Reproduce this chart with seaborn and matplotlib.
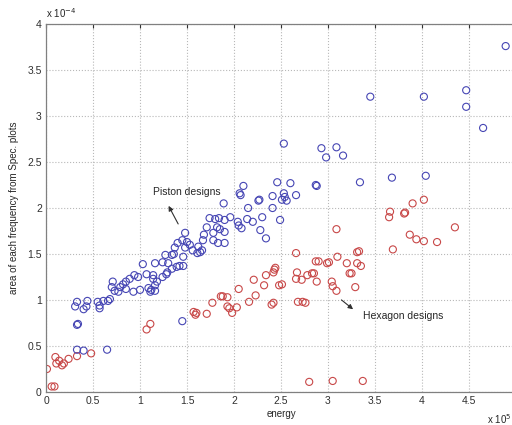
import matplotlib
matplotlib.use("Agg")
import matplotlib.pyplot as plt
import seaborn as sns
import pandas as pd

# Piston designs (blue): energy (x 10^5), area (x 10^-4)
piston_x = [4.89, 3.45, 4.02, 4.47, 4.47, 4.65,
            2.53, 2.93, 2.98, 3.09, 3.16, 3.34, 3.68, 4.04,
            2.46, 2.60, 2.87, 2.88,
            2.41, 2.53, 2.54, 2.51, 2.56, 2.66, 2.27, 2.41, 2.49,
            2.10, 2.07, 2.06, 2.26, 2.15, 1.89, 2.30, 2.28, 2.34, 2.20, 2.14, 2.04, 2.05, 2.08,
            1.96, 1.90, 1.84, 1.80, 1.74, 1.82, 1.85, 1.90, 1.78, 1.71, 1.68, 1.67, 1.78, 1.83,
            1.90, 1.62, 1.64, 1.61, 1.66, 1.48, 1.45, 1.50, 1.40, 1.53, 1.56, 1.48, 1.37, 1.34,
            1.46, 1.27, 1.24, 1.30, 1.16, 1.39, 1.42, 1.46, 1.29, 1.34, 1.24, 1.14, 1.18,
            0.31, 0.33, 0.43, 0.44, 0.40, 0.33, 0.34, 0.33, 0.40, 0.65, 0.55, 0.57, 0.61, 0.57,
            0.66, 0.68, 0.70, 0.71, 0.73, 0.79, 0.77, 0.82, 0.85, 0.85, 0.89, 0.93, 0.94, 0.98,
            1.00, 1.03, 1.09, 1.12, 1.16, 1.07, 1.14, 1.16, 1.11, 1.45, 1.28, 1.36]
piston_y = [3.76, 3.21, 3.21, 3.28, 3.10, 2.87,
            2.70, 2.65, 2.55, 2.66, 2.57, 2.28, 2.33, 2.35,
            2.28, 2.27, 2.25, 2.24,
            2.13, 2.16, 2.12, 2.09, 2.08, 2.14, 2.09, 2.00, 1.87,
            2.24, 2.14, 2.16, 2.08, 2.00, 2.05, 1.90, 1.76, 1.67, 1.85, 1.88, 1.85, 1.81, 1.78,
            1.90, 1.87, 1.89, 1.88, 1.89, 1.79, 1.77, 1.74, 1.73, 1.79, 1.71, 1.65, 1.65, 1.62,
            1.62, 1.58, 1.52, 1.51, 1.54, 1.73, 1.65, 1.63, 1.62, 1.60, 1.54, 1.57, 1.57, 1.49,
            1.47, 1.49, 1.41, 1.40, 1.40, 1.36, 1.37, 1.37, 1.30, 1.34, 1.25, 1.27, 1.20,
            0.93, 0.98, 0.93, 0.99, 0.90, 0.73, 0.74, 0.46, 0.45, 0.46, 0.98, 0.94, 0.99, 0.91,
            0.99, 1.01, 1.14, 1.20, 1.10, 1.14, 1.09, 1.17, 1.12, 1.20, 1.23, 1.09, 1.27, 1.25,
            1.11, 1.39, 1.13, 1.11, 1.10, 1.28, 1.23, 1.16, 1.09, 0.77, 1.28, 1.50]

# Hexagon designs (red)
hexagon_x = [0.01, 0.06, 0.09, 0.10, 0.11, 0.14, 0.17, 0.19, 0.24, 0.33, 0.48, 1.07, 1.11,
             1.57, 1.59, 1.60, 1.71, 1.77, 1.86, 1.88, 1.93, 1.93, 1.95, 1.98, 2.03, 2.05,
             2.16, 2.21, 2.23, 2.32, 2.34, 2.40, 2.42, 2.43, 2.44, 2.42, 2.48, 2.51,
             2.66, 2.67, 2.66, 2.72, 2.78, 2.83, 2.85, 2.88, 2.87, 2.90, 2.99, 3.01, 3.10,
             3.04, 3.05, 3.09, 3.20, 3.23, 3.25, 3.29, 3.31, 3.33, 3.31, 3.35, 2.68, 2.73,
             2.76, 2.80, 3.05, 3.37, 3.09, 3.69, 3.65, 3.66, 3.81, 3.82, 3.90, 4.02, 3.87,
             3.94, 4.02, 4.16, 4.35]
hexagon_y = [0.25, 0.06, 0.06, 0.38, 0.31, 0.34, 0.29, 0.31, 0.36, 0.39, 0.42, 0.68, 0.74,
             0.87, 0.84, 0.86, 0.85, 0.97, 1.04, 1.04, 1.03, 0.93, 0.91, 0.86, 0.92, 1.12,
             0.98, 1.22, 1.05, 1.16, 1.27, 0.95, 0.97, 1.33, 1.35, 1.30, 1.16, 1.17,
             1.51, 1.30, 1.23, 1.22, 1.27, 1.29, 1.29, 1.20, 1.42, 1.42, 1.40, 1.41, 1.47,
             1.20, 1.15, 1.10, 1.40, 1.29, 1.29, 1.14, 1.52, 1.53, 1.40, 1.37, 0.98, 0.98,
             0.97, 0.11, 0.12, 0.12, 1.77, 1.55, 1.90, 1.96, 1.94, 1.95, 2.05, 2.09, 1.71,
             1.66, 1.64, 1.63, 1.79]

x_ticks = [0, 0.5, 1, 1.5, 2, 2.5, 3, 3.5, 4, 4.5, 5]
x_tick_labels = ["0", "0.5", "1", "1.5", "2", "2.5", "3", "3.5", "4", "4.5", ""]
y_ticks = [0, 0.5, 1, 1.5, 2, 2.5, 3, 3.5, 4]
y_tick_labels = ["0", "0.5", "1", "1.5", "2", "2.5", "3", "3.5", "4"]

df = pd.concat([
    pd.DataFrame({"energy": piston_x, "area": piston_y, "design": "Piston designs"}),
    pd.DataFrame({"energy": hexagon_x, "area": hexagon_y, "design": "Hexagon designs"}),
], ignore_index=True)

sns.set_style("white")
plt.rcParams['font.family'] = ['Liberation Sans', 'DejaVu Sans']

fig = plt.figure(figsize=(5.12, 4.25), dpi=100)
ax = fig.add_axes([46 / 512, 33 / 425, 470 / 512, 368 / 425])

colors = {"Piston designs": "#4646b4", "Hexagon designs": "#c84848"}
for name, sub in df.groupby("design"):
    sns.scatterplot(data=sub, x="energy", y="area", ax=ax, marker="o", s=26,
                    facecolor="none", edgecolor=colors[name], linewidth=0.8,
                    legend=False)

ax.set_xlim(0, 5)
ax.set_ylim(0, 4)
ax.set_xticks(x_ticks)
ax.set_yticks(y_ticks)
ax.set_xticklabels(x_tick_labels)
ax.set_yticklabels(y_tick_labels)
ax.grid(True, linestyle=":", color="#b8b8b8", linewidth=0.8)
ax.tick_params(direction="in", length=3, labelsize=7.5, colors="#303030",
               top=True, right=True, pad=3)
for sp in ax.spines.values():
    sp.set_color("#808080")
    sp.set_linewidth(0.9)

ax.set_xlabel("energy", fontsize=7, labelpad=2)
ax.set_ylabel("area of each frequency from Spec. plots", fontsize=7, labelpad=6)

ax.text(0.0, 1.012, r"x 10$^{-4}$", transform=ax.transAxes, fontsize=7,
        ha="left", va="bottom")
fig.text(487 / 512, 1 - 419 / 425, r"x 10$^{5}$", fontsize=7, ha="left", va="center")

ax.annotate("Piston designs", xy=(1.29, 2.05), xytext=(1.14, 2.17),
            fontsize=7.5, ha="left", va="center")
ax.annotate("", xy=(1.29, 2.05), xytext=(1.42, 1.80),
            arrowprops=dict(arrowstyle="-|>", color="#303030", lw=0.8,
                            mutation_scale=7))
ax.annotate("Hexagon designs", xy=(3.29, 0.82), xytext=(3.37, 0.83),
            fontsize=7.5, ha="left", va="center")
ax.annotate("", xy=(3.29, 0.88), xytext=(3.12, 1.02),
            arrowprops=dict(arrowstyle="-|>", color="#303030", lw=0.8,
                            mutation_scale=7))

fig.savefig("out.png", dpi=100)
